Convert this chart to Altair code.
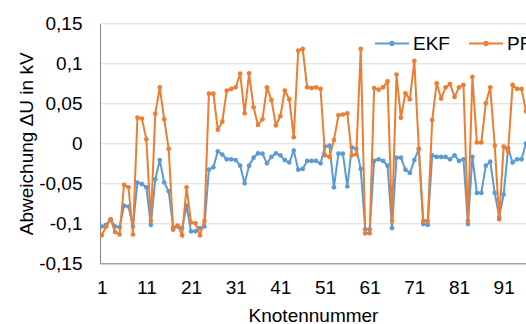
import altair as alt
import pandas as pd

# Node numbers along the feeder
knoten = list(range(1, 97))

# Voltage deviation per node (kV), Extended Kalman Filter
ekf = [
    -0.104, -0.102, -0.095, -0.104, -0.105, -0.078, -0.079, -0.104, -0.049, -0.051,
    -0.055, -0.102, -0.045, -0.021, -0.049, -0.060, -0.105, -0.104, -0.106, -0.078,
    -0.110, -0.110, -0.106, -0.104, -0.033, -0.030, -0.010, -0.014, -0.020, -0.020,
    -0.021, -0.028, -0.050, -0.028, -0.018, -0.0125, -0.013, -0.025, -0.017, -0.0125,
    -0.015, -0.021, -0.024, -0.009, -0.033, -0.032, -0.022, -0.022, -0.022, -0.025,
    -0.004, -0.003, -0.055, -0.013, -0.013, -0.054, -0.005, -0.007, -0.032, -0.1075,
    -0.1075, -0.022, -0.020, -0.022, -0.028, -0.106, -0.018, -0.018, -0.033, -0.037,
    -0.021, -0.007, -0.101, -0.102, -0.015, -0.017, -0.017, -0.017, -0.020, -0.015,
    -0.022, -0.020, -0.101, -0.017, -0.062, -0.062, -0.028, -0.023, -0.062, -0.092,
    -0.064, -0.006, -0.024, -0.020, -0.020, 0.000,
]

# Voltage deviation per node (kV), Particle Filter
pf = [
    -0.115, -0.104, -0.095, -0.111, -0.114, -0.052, -0.055, -0.114, 0.032, 0.031,
    0.005, -0.097, 0.037, 0.070, 0.030, -0.007, -0.108, -0.103, -0.115, -0.055,
    -0.099, -0.100, -0.115, -0.097, 0.062, 0.062, 0.017, 0.027, 0.066, 0.068,
    0.070, 0.087, 0.0375, 0.0875, 0.045, 0.023, 0.030, 0.070, 0.054, 0.0225,
    0.034, 0.066, 0.055, 0.0075, 0.116, 0.118, 0.070, 0.069, 0.070, 0.068,
    -0.015, -0.017, 0.004, 0.035, 0.036, 0.0375, -0.015, -0.014, 0.118, -0.1125,
    -0.1125, 0.069, 0.067, 0.070, 0.0775, -0.097, 0.086, 0.032, 0.0625, 0.055,
    0.103, -0.007, -0.097, -0.097, 0.029, 0.075, 0.056, 0.070, 0.074, 0.058,
    0.070, 0.073, -0.097, 0.083, 0.001, 0.001, 0.050, 0.070, -0.003, -0.095,
    -0.004, -0.010, 0.073, 0.068, 0.068, 0.040,
]

verfahren = ["EKF", "PF"]
farben = ["#5B9BD5", "#ED7D31"]
x_ticks = [1, 11, 21, 31, 41, 51, 61, 71, 81, 91]
y_ticks = [-0.15, -0.1, -0.05, 0, 0.05, 0.1, 0.15]

df = pd.DataFrame({
    "Knoten": knoten * 2,
    "Abweichung": ekf + pf,
    "Verfahren": [verfahren[0]] * len(ekf) + [verfahren[1]] * len(pf),
})

FONT = "Liberation Sans"
FS = 19

x_enc = alt.X(
    "Knoten:Q",
    scale=alt.Scale(domain=[0.62, 96], nice=False, zero=False),
    axis=alt.Axis(
        values=x_ticks, title="Knotennummer", grid=False, ticks=False,
        domainColor="#868686", domainWidth=1, labelFlush=False,
        labelBaseline="alphabetic", labelPadding=29.7,
        titleY=57.7, titleBaseline="alphabetic",
    ),
)

y_enc = alt.Y(
    "Abweichung:Q",
    scale=alt.Scale(domain=[-0.15, 0.15], nice=False, zero=False),
    axis=alt.Axis(
        values=y_ticks, title="Abweichung ΔU in kV", grid=True,
        gridColor="#D9D9D9", gridWidth=1, ticks=False,
        domainColor="#868686", domainWidth=1, labelPadding=18,
        labelExpr="replace(replace(format(datum.value, '.2~f'), '.', ','), '\u2212', '-')",
        titleX=-73.5, titleY=120, titleBaseline="middle", titleAlign="center",
    ),
)

color_enc = alt.Color(
    "Verfahren:N",
    scale=alt.Scale(domain=verfahren, range=farben),
    legend=alt.Legend(
        title=None, orient="none", direction="horizontal",
        legendX=274, legendY=2.2, padding=0,
        symbolType="M-1,0L1,0M-0.1,0A0.1,0.1,0,1,0,0.1,0A0.1,0.1,0,1,0,-0.1,0Z",
        symbolSize=1156, symbolStrokeWidth=2,
        labelFont=FONT, labelFontSize=FS, labelColor="#000000",
        labelOffset=3, columnPadding=15,
    ),
)

layers = []
for name in verfahren:
    layers.append(
        alt.Chart(df)
        .transform_filter(alt.datum.Verfahren == name)
        .mark_line(strokeWidth=2, clip=True,
                   point=alt.OverlayMarkDef(filled=True, size=22, clip=True))
        .encode(x=x_enc, y=y_enc, color=color_enc)
    )

chart = (
    alt.layer(*layers)
    .properties(
        width=426, height=240,
        autosize=alt.AutoSizeParams(type="none"),
        padding={"left": 100, "top": 23.3, "right": 0, "bottom": 60.7},
        background="white",
    )
    .configure_view(stroke=None)
    .configure_axis(
        labelFont=FONT, labelFontSize=FS, labelColor="#000000",
        titleFont=FONT, titleFontSize=FS, titleFontWeight="normal", titleColor="#000000",
    )
)

chart.save("out.html", embed_options={"renderer": "svg", "actions": False})
